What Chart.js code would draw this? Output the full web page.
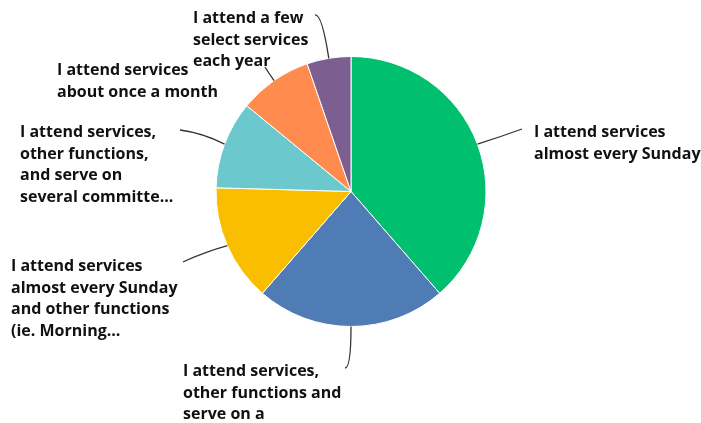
<!DOCTYPE html>
<html>
<head>
<meta charset="utf-8">
<script src="https://cdn.jsdelivr.net/npm/chart.js@4"></script>
<style>
html,body{margin:0;padding:0;background:#fff;}
#wrap{width:701px;height:423px;position:relative;}
</style>
</head>
<body>
<div id="wrap"><canvas id="c" width="701" height="423"></canvas></div>
<script>
// Data
const categories = [
  "I attend services almost every Sunday",
  "I attend services, other functions and serve on a",
  "I attend services almost every Sunday and other functions (ie. Morning...",
  "I attend services, other functions, and serve on several committe...",
  "I attend services about once a month",
  "I attend a few select services each year"
];
const labelLines = [
  ["I attend services", "almost every Sunday"],
  ["I attend services,", "other functions and", "serve on a"],
  ["I attend services", "almost every Sunday", "and other functions", "(ie. Morning..."],
  ["I attend services,", "other functions,", "and serve on", "several committe..."],
  ["I attend services", "about once a month"],
  ["I attend a few", "select services", "each year"]
];
const values = [22, 13, 8, 6, 5, 3];
const colors = ["#00BF6F", "#507CB6", "#F9BE00", "#6BC8CD", "#FF8B4F", "#7D5E90"];

// Label layout (pixel placement of callouts)
const callouts = [
  {ctrl:[500,137], end:[522,129], tx:534, ty:137},
  {ctrl:[351,368], end:[345,368], tx:183, ty:376},
  {ctrl:[205,252], end:[183,262], tx:11,  ty:271},
  {ctrl:[203,133], end:[180,130], tx:20,  ty:137},
  {ctrl:[268,72],  end:[265,67],  tx:57,  ty:75},
  {ctrl:[322,14],  end:[315,15],  tx:193, ty:23}
];

const calloutPlugin = {
  id: 'callouts',
  afterDatasetsDraw(chart) {
    const ctx = chart.ctx;
    const meta = chart.getDatasetMeta(0);
    ctx.save();
    meta.data.forEach((arc, i) => {
      const p = arc.getProps(['x','y','startAngle','endAngle','outerRadius'], true);
      const mid = (p.startAngle + p.endAngle) / 2;
      const sx = p.x + Math.cos(mid) * p.outerRadius;
      const sy = p.y + Math.sin(mid) * p.outerRadius;
      const c = callouts[i];
      ctx.beginPath();
      ctx.moveTo(sx, sy);
      ctx.quadraticCurveTo(c.ctrl[0], c.ctrl[1], c.end[0], c.end[1]);
      ctx.strokeStyle = '#333';
      ctx.lineWidth = 1.3;
      ctx.stroke();
      ctx.fillStyle = '#111';
      ctx.font = '700 16px "Open Sans"';
      ctx.textBaseline = 'alphabetic';
      ctx.textAlign = 'left';
      labelLines[i].forEach((line, j) => {
        ctx.fillText(line, c.tx, c.ty + j * 21.5);
      });
    });
    ctx.restore();
  }
};

new Chart(document.getElementById('c'), {
  type: 'pie',
  data: {
    labels: categories,
    datasets: [{
      data: values,
      backgroundColor: colors,
      borderColor: '#ffffff',
      borderWidth: 1
    }]
  },
  options: {
    responsive: false,
    animation: false,
    layout: { padding: { top: 56, bottom: 96, left: 215, right: 214 } },
    plugins: { legend: { display: false }, tooltip: { enabled: false } }
  },
  plugins: [calloutPlugin]
});
</script>
</body>
</html>
